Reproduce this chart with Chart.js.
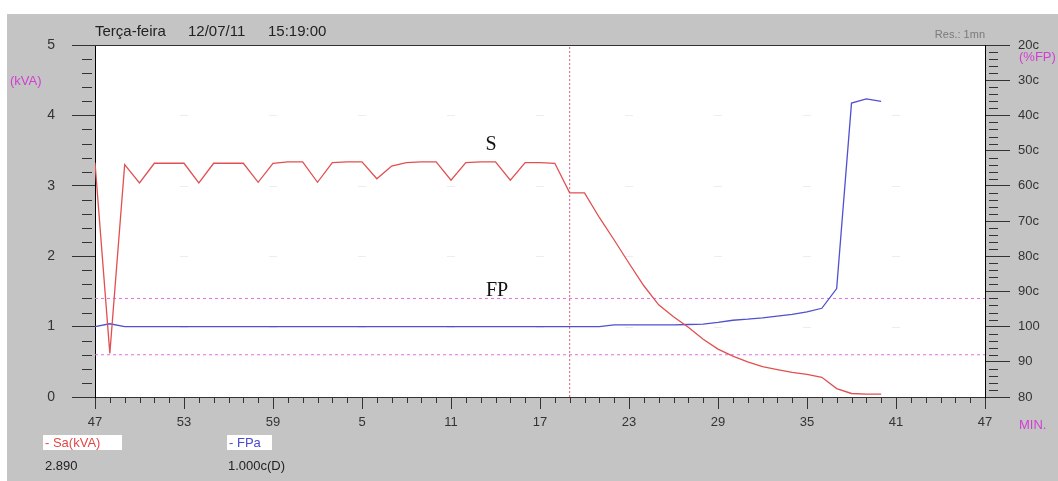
<!DOCTYPE html>
<html>
<head>
<meta charset="utf-8">
<script src="https://cdn.jsdelivr.net/npm/chart.js@4.4.0/dist/chart.umd.min.js"></script>
<style>
  html, body { margin: 0; padding: 0; background: #fff; }
  #wrap { position: relative; width: 1058px; height: 481px; }
</style>
</head>
<body>
<div id="wrap"><canvas id="fpChart" width="1058" height="481"></canvas></div>
<script>
// values, one sample per minute starting at xx:47
const sKva = [
  3.33, 0.62, 3.30, 3.04, 3.32, 3.32, 3.32, 3.04, 3.32, 3.32,
  3.32, 3.05, 3.32, 3.34, 3.34, 3.05, 3.33, 3.34, 3.34, 3.10,
  3.28, 3.33, 3.34, 3.34, 3.08, 3.33, 3.34, 3.34, 3.08, 3.33,
  3.33, 3.32, 2.90, 2.90, 2.55, 2.23, 1.90, 1.58, 1.31, 1.14,
  0.99, 0.82, 0.68, 0.58, 0.50, 0.43, 0.39, 0.35, 0.32, 0.28,
  0.12, 0.05, 0.04, 0.04
];
// power factor, in right axis steps (0 = 80 ind, 2 = 100, 10 = 20c)
const fpPos = [
  2.00, 2.08, 2.00, 2.00, 2.00, 2.00, 2.00, 2.00, 2.00, 2.00,
  2.00, 2.00, 2.00, 2.00, 2.00, 2.00, 2.00, 2.00, 2.00, 2.00,
  2.00, 2.00, 2.00, 2.00, 2.00, 2.00, 2.00, 2.00, 2.00, 2.00,
  2.00, 2.00, 2.00, 2.00, 2.00, 2.05, 2.05, 2.05, 2.05, 2.05,
  2.06, 2.07, 2.12, 2.18, 2.21, 2.25, 2.30, 2.35, 2.42, 2.52,
  3.08, 8.35, 8.47, 8.40
];
const xTickLabels = ['47', '53', '59', '5', '11', '17', '23', '29', '35', '41', '47'];
const fpTickLabels = ['80', '90', '100', '90c', '80c', '70c', '60c', '50c', '40c', '30c', '20c'];
const fpLimits = [1.2, 2.8];   // 0.92 ind / 0.92 cap
const cursorMin = 32;          // 15:19

const FONT = "'Liberation Sans', Arial, sans-serif";

// background, plot frame, minor ticks
const framePlugin = {
    id: 'frame',
    beforeDraw(chart) {
        const c = chart.ctx;
        const a = chart.chartArea;
        c.save();
        c.fillStyle = '#fff';
        c.fillRect(0, 0, chart.width, chart.height);
        c.fillStyle = '#c4c4c4';
        c.fillRect(7, 14, chart.width - 7, chart.height - 14);
        c.fillStyle = '#fff';
        c.fillRect(a.left, a.top, a.right - a.left, a.bottom - a.top);

        // faint marks at the grid crossings
        const xs = chart.scales.x, ys = chart.scales.y;
        c.strokeStyle = 'rgba(0,0,0,0.07)';
        c.lineWidth = 1;
        for (let i = 1; i < 10; i++) {
            const px = Math.round(xs.getPixelForValue(i * 6));
            for (let j = 1; j < 5; j++) {
                const py = Math.round(ys.getPixelForValue(j)) + 0.5;
                c.beginPath();
                c.moveTo(px - 4, py);
                c.lineTo(px + 4, py);
                c.stroke();
            }
        }
        c.restore();
    },
    afterDraw(chart) {
        const c = chart.ctx;
        const a = chart.chartArea;
        const xs = chart.scales.x, ys = chart.scales.y, y1 = chart.scales.y1;
        c.save();
        c.strokeStyle = '#333';
        c.lineWidth = 1;
        // top edge
        c.beginPath();
        c.moveTo(a.left, a.top + 0.5);
        c.lineTo(a.right, a.top + 0.5);
        c.stroke();
        // minor ticks
        c.beginPath();
        for (let m = 0; m <= 60; m++) {
            if (m % 6 === 0) continue;
            const px = Math.round(xs.getPixelForValue(m)) + 0.5;
            c.moveTo(px, a.bottom);
            c.lineTo(px, a.bottom + 6);
        }
        for (let k = 0; k <= 25; k++) {
            if (k % 5 === 0) continue;
            const py = Math.round(ys.getPixelForValue(k / 5)) + 0.5;
            c.moveTo(a.left - 13, py);
            c.lineTo(a.left - 3, py);
        }
        for (let k = 0; k <= 50; k++) {
            if (k % 5 === 0) continue;
            const py = Math.round(y1.getPixelForValue(k / 5)) + 0.5;
            c.moveTo(a.right + 4, py);
            c.lineTo(a.right + 13, py);
        }
        c.stroke();

        // texts
        c.textBaseline = 'middle';
        c.fillStyle = '#222';
        c.font = '15px ' + FONT;
        c.textAlign = 'left';
        c.fillText('Terça-feira', 95, 32);
        c.fillText('12/07/11', 188, 32);
        c.fillText('15:19:00', 268, 32);
        c.fillStyle = '#7a7a7a';
        c.font = '11px ' + FONT;
        c.textAlign = 'right';
        c.fillText('Res.: 1mn', a.right, 35);

        c.textAlign = 'left';
        c.fillStyle = '#d040d0';
        c.font = '13px ' + FONT;
        c.fillText('(kVA)', 10, 81);
        c.fillText('(%FP)', 1019, 57);
        c.fillText('MIN.', 1019, 425);

        c.fillStyle = '#111';
        c.font = '20px "Liberation Serif", "Times New Roman", serif';
        c.textAlign = 'center';
        c.fillText('S', 491, 145);
        c.fillText('FP', 497, 291);

        // legend boxes
        c.textAlign = 'left';
        c.font = '13px ' + FONT;
        c.fillStyle = '#fff';
        c.fillRect(43, 435, 79, 15);
        c.fillRect(227, 435, 45, 15);
        c.fillStyle = '#e04848';
        c.fillText('- Sa(kVA)', 45, 443);
        c.fillStyle = '#4848d0';
        c.fillText('- FPa', 229, 443);
        c.fillStyle = '#222';
        c.fillText('2.890', 45, 466);
        c.fillText('1.000c(D)', 228, 466);
        c.restore();
    }
};

const ctx = document.getElementById('fpChart').getContext('2d');
new Chart(ctx, {
    type: 'line',
    data: {
        datasets: [{
            label: 'Sa(kVA)',
            data: sKva.map((v, i) => ({ x: i, y: v })),
            borderColor: '#e05050',
            borderWidth: 1.3,
            pointRadius: 0,
            tension: 0,
            yAxisID: 'y'
        }, {
            label: 'FPa',
            data: fpPos.map((v, i) => ({ x: i, y: v })),
            borderColor: '#5050d0',
            borderWidth: 1.3,
            pointRadius: 0,
            tension: 0,
            yAxisID: 'y1'
        }, {
            label: 'lim1',
            data: [{ x: 0, y: fpLimits[0] }, { x: 60, y: fpLimits[0] }],
            borderColor: '#e070e0',
            borderWidth: 1,
            borderDash: [3, 3],
            pointRadius: 0,
            yAxisID: 'y1'
        }, {
            label: 'lim2',
            data: [{ x: 0, y: fpLimits[1] }, { x: 60, y: fpLimits[1] }],
            borderColor: '#e070e0',
            borderWidth: 1,
            borderDash: [3, 3],
            pointRadius: 0,
            yAxisID: 'y1'
        }, {
            label: 'cursor',
            data: [{ x: cursorMin, y: 0 }, { x: cursorMin, y: 5 }],
            borderColor: '#e06070',
            borderWidth: 1,
            borderDash: [2, 2],
            pointRadius: 0,
            yAxisID: 'y'
        }]
    },
    options: {
        responsive: false,
        animation: false,
        events: [],
        layout: { padding: { top: 45, left: 0, right: 0, bottom: 0 } },
        plugins: {
            legend: { display: false },
            tooltip: { enabled: false }
        },
        scales: {
            x: {
                type: 'linear',
                min: 0,
                max: 60,
                afterFit: s => { s.height = 84; },
                grid: { drawOnChartArea: false, tickLength: 12, color: '#333' },
                border: { display: true, color: '#333' },
                ticks: {
                    stepSize: 6,
                    padding: 6,
                    color: '#333',
                    font: { family: FONT, size: 13 },
                    maxRotation: 0,
                    autoSkip: false,
                    callback: v => xTickLabels[Math.round(v / 6)]
                }
            },
            y: {
                type: 'linear',
                position: 'left',
                min: 0,
                max: 5,
                afterFit: s => { s.width = 95; },
                grid: { drawOnChartArea: false, tickLength: 23, color: '#333' },
                border: { display: true, color: '#000' },
                ticks: {
                    stepSize: 1,
                    padding: 17,
                    color: '#333',
                    font: { family: FONT, size: 14 }
                }
            },
            y1: {
                type: 'linear',
                position: 'right',
                min: 0,
                max: 10,
                afterFit: s => { s.width = 73; },
                grid: { drawOnChartArea: false, tickLength: 25, color: '#333' },
                border: { display: true, color: '#000' },
                ticks: {
                    stepSize: 1,
                    padding: 8,
                    color: '#333',
                    font: { family: FONT, size: 13 },
                    callback: v => fpTickLabels[Math.round(v)]
                }
            }
        }
    },
    plugins: [framePlugin]
});
</script>
</body>
</html>
